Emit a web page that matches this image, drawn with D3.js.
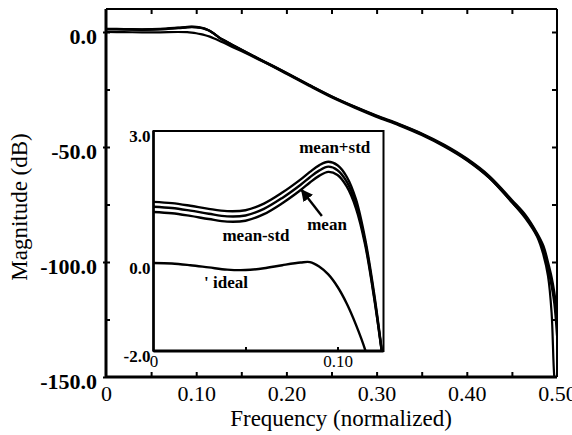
<!DOCTYPE html>
<html>
<head>
<meta charset="utf-8">
<script src="https://cdn.jsdelivr.net/npm/d3@7"></script>
<style>
  html, body { margin: 0; padding: 0; background: #fff; }
  svg { display: block; }
  text { font-family: "Liberation Serif", "DejaVu Serif", serif; fill: #000; }
</style>
</head>
<body>
<svg id="chart" width="572" height="435"></svg>
<script>
// ---------------- DATA ----------------
// Main plot: full band, normalized frequency 0..0.5, magnitude in dB
const mainFreq = [0, 0.02, 0.04, 0.06, 0.08, 0.09, 0.095, 0.10, 0.105, 0.11, 0.115, 0.12, 0.125, 0.13, 0.14, 0.15,
                  0.175, 0.2, 0.225, 0.25, 0.275, 0.3, 0.325, 0.35, 0.375, 0.4, 0.425, 0.45, 0.465, 0.478, 0.485,
                  0.49, 0.494, 0.497, 0.5];
const mainIdeal = [0, -0.05, -0.15, -0.12, 0.01, -0.08, -0.26, -0.54, -0.92, -1.4, -2.0, -2.8, -3.7, -4.6, -6.5, -8.3,
                   -13.1, -18.2, -23.4, -28.4, -32.8, -36.9, -40.6, -44.8, -49.8, -55.8, -63.5, -74, -81, -89, -97,
                   -106, -122, -150, -160];
const mainMeanPlusStd = [1.39, 1.30, 1.18, 1.35, 1.90, 2.22, 2.30, 2.22, 1.96, 1.45, 0.55, -0.72, -2.2, -3.4, -5.5, -7.6,
                   -12.7, -17.7, -22.9, -27.9, -32.3, -36.3, -40.0, -44.1, -49.0, -55.0, -62.6, -73, -79.5, -87.5, -93,
                   -100, -106.5, -113, -122];
const mainMean = [1.28, 1.19, 1.06, 1.23, 1.78, 2.10, 2.19, 2.11, 1.85, 1.35, 0.48, -0.78, -2.3, -3.5, -5.6, -7.7,
                   -12.8, -17.8, -23, -28, -32.4, -36.5, -40.2, -44.3, -49.3, -55.3, -63, -73.5, -80, -88, -94,
                   -101.5, -108.5, -115.5, -126];
const mainMeanMinusStd = [1.16, 1.07, 0.94, 1.11, 1.66, 1.98, 2.07, 2.00, 1.74, 1.25, 0.42, -0.82, -2.35, -3.6, -5.7, -7.8,
                   -12.9, -17.9, -23.1, -28.1, -32.5, -36.6, -40.3, -44.5, -49.5, -55.6, -63.4, -74, -80.5, -88.5, -95,
                   -103, -110.5, -118, -132];

// Inset: passband detail, frequency 0..0.125, magnitude in dB
const insetFreq = [0, 0.01, 0.02, 0.03, 0.04, 0.05, 0.06, 0.07, 0.08, 0.085, 0.09, 0.095, 0.10, 0.105, 0.11, 0.115, 0.12, 0.125];
const insetIdeal = [0, -0.01, -0.05, -0.10, -0.15, -0.16, -0.12, -0.05, 0.01, 0.02, -0.08, -0.26, -0.54, -0.92, -1.40, -1.97, -2.8, -3.7];
const insetMeanPlusStd = [1.39, 1.36, 1.30, 1.23, 1.18, 1.20, 1.35, 1.60, 1.90, 2.07, 2.22, 2.30, 2.22, 1.96, 1.45, 0.55, -0.72, -2.3];
const insetMean = [1.28, 1.25, 1.19, 1.12, 1.06, 1.08, 1.23, 1.48, 1.78, 1.95, 2.10, 2.19, 2.11, 1.85, 1.35, 0.48, -0.78, -2.3];
const insetMeanMinusStd = [1.16, 1.13, 1.07, 1.00, 0.94, 0.96, 1.11, 1.36, 1.66, 1.83, 1.98, 2.07, 2.00, 1.74, 1.25, 0.42, -0.82, -2.3];

// Tick values / labels
const mainXTicks = [0, 0.1, 0.2, 0.3, 0.4, 0.5];
const mainXTickLabels = ["0", "0.10", "0.20", "0.30", "0.40", "0.50"];
const mainXMinorTicks = [0.05, 0.1, 0.15, 0.2, 0.25, 0.3, 0.35, 0.4, 0.45];
const mainYTicks = [0, -50, -100, -150];
const mainYTickLabels = ["0.0", "-50.0", "-100.0", "-150.0"];
const mainYMinorTicks = [0, -25, -50, -75, -100, -125];
const insetXTicks = [0, 0.1];
const insetXTickLabels = ["0", "0.10"];
const insetXMinorTicks = [0.05, 0.1];
const insetYTicks = [3, 0, -2];
const insetYTickLabels = ["3.0", "0.0", "-2.0"];

const xLabel = "Frequency (normalized)";
const yLabel = "Magnitude (dB)";

// ---------------- DRAWING ----------------
const svg = d3.select("#chart");

const x = d3.scaleLinear().domain([0, 0.5]).range([106, 557]);
const y = d3.scaleLinear().domain([-150, 10]).range([377, 9]);

const xi = d3.scaleLinear().domain([0, 0.125]).range([153.5, 383.5]);
const yi = d3.scaleLinear().domain([-2, 3]).range([351, 131]);

// clip paths
const defs = svg.append("defs");
defs.append("clipPath").attr("id", "mainClip").append("rect")
  .attr("x", x(0)).attr("y", y(10)).attr("width", x(0.5) - x(0)).attr("height", y(-150) - y(10));
defs.append("clipPath").attr("id", "insetClip").append("rect")
  .attr("x", xi(0)).attr("y", yi(3)).attr("width", xi(0.125) - xi(0)).attr("height", yi(-2) - yi(3));
defs.append("marker").attr("id", "arrowHead")
  .attr("viewBox", "0 0 10 10").attr("refX", 9).attr("refY", 5)
  .attr("markerWidth", 5).attr("markerHeight", 5).attr("orient", "auto")
  .append("path").attr("d", "M0,0 L10,5 L0,10 z").attr("fill", "#000");

const smooth = d3.curveCatmullRom.alpha(0.5);

// main curves
const mainLine = vals => d3.line()
  .x((d, i) => x(mainFreq[i]))
  .y(d => y(d))
  .curve(smooth)(vals);

const mainG = svg.append("g").attr("clip-path", "url(#mainClip)");
[mainIdeal, mainMeanMinusStd, mainMean, mainMeanPlusStd].forEach(s => {
  mainG.append("path").attr("d", mainLine(s))
    .attr("fill", "none").attr("stroke", "#000").attr("stroke-width", 2.2);
});

// main frame (top / right)
svg.append("line").attr("x1", x(0)).attr("x2", x(0.5)).attr("y1", y(10)).attr("y2", y(10))
  .attr("stroke", "#000").attr("stroke-width", 2);
svg.append("line").attr("x1", x(0.5)).attr("x2", x(0.5)).attr("y1", y(10)).attr("y2", y(-150))
  .attr("stroke", "#000").attr("stroke-width", 2);

// minor / inward ticks on all sides
svg.append("g").attr("transform", `translate(0,${y(-150)})`)
  .call(d3.axisBottom(x).tickValues(mainXMinorTicks).tickSize(-5).tickFormat(""))
  .call(g => g.select(".domain").remove())
  .selectAll("line").attr("stroke-width", 2);
svg.append("g").attr("transform", `translate(0,${y(10)})`)
  .call(d3.axisTop(x).tickValues(mainXMinorTicks).tickSize(-5).tickFormat(""))
  .call(g => g.select(".domain").remove())
  .selectAll("line").attr("stroke-width", 2);
svg.append("g").attr("transform", `translate(${x(0.5)},0)`)
  .call(d3.axisRight(y).tickValues(mainYMinorTicks).tickSize(-5).tickFormat(""))
  .call(g => g.select(".domain").remove())
  .selectAll("line").attr("stroke-width", 2);
svg.append("g").attr("transform", `translate(${x(0)},0)`)
  .call(d3.axisLeft(y).tickValues(mainYMinorTicks).tickSize(-4).tickFormat(""))
  .call(g => g.select(".domain").remove())
  .selectAll("line").attr("stroke-width", 2);

// main x axis
const xAxisG = svg.append("g").attr("transform", `translate(0,${y(-150)})`)
  .call(d3.axisBottom(x).tickValues(mainXTicks).tickSize(0).tickPadding(8)
    .tickFormat((d, i) => mainXTickLabels[i]));
xAxisG.select(".domain").attr("stroke-width", 3).attr("d", `M${x(0)},0H${x(0.5)}`);
xAxisG.selectAll("text").attr("font-size", 22).attr("font-family", "Liberation Serif");

// main y axis
const yAxisG = svg.append("g").attr("transform", `translate(${x(0)},0)`)
  .call(d3.axisLeft(y).tickValues(mainYTicks).tickSize(3).tickPadding(6)
    .tickFormat((d, i) => mainYTickLabels[i]));
yAxisG.select(".domain").attr("stroke-width", 3).attr("d", `M0,${y(10)}V${y(-150)}`);
yAxisG.selectAll("line").attr("stroke-width", 2);
yAxisG.selectAll("text").attr("font-size", 22).attr("font-weight", "bold")
  .attr("font-family", "Liberation Serif").attr("dy", "0.5em");

// axis labels
svg.append("text").attr("x", 341).attr("y", 426).attr("text-anchor", "middle")
  .attr("font-size", 23).text(xLabel);
svg.append("text").attr("transform", `translate(27,${207}) rotate(-90)`)
  .attr("text-anchor", "middle").attr("font-size", 23).text(yLabel);

// ---------------- INSET ----------------
svg.append("rect").attr("x", xi(0)).attr("y", yi(3))
  .attr("width", xi(0.125) - xi(0)).attr("height", yi(-2) - yi(3))
  .attr("fill", "#fff").attr("stroke", "#000").attr("stroke-width", 2);

const insetLine = vals => d3.line()
  .x((d, i) => xi(insetFreq[i]))
  .y(d => yi(d))
  .curve(smooth)(vals);

const insetG = svg.append("g").attr("clip-path", "url(#insetClip)");
[insetIdeal, insetMeanMinusStd, insetMean, insetMeanPlusStd].forEach(s => {
  insetG.append("path").attr("d", insetLine(s))
    .attr("fill", "none").attr("stroke", "#000").attr("stroke-width", 2.4);
});

// inset axes
const ixG = svg.append("g").attr("transform", `translate(0,${yi(-2)})`)
  .call(d3.axisBottom(xi).tickValues(insetXTicks).tickSize(0).tickPadding(4)
    .tickFormat((d, i) => insetXTickLabels[i]));
ixG.select(".domain").attr("stroke-width", 3).attr("d", `M${xi(0)},0H${xi(0.125)}`);
ixG.selectAll("text").attr("font-size", 17).attr("font-family", "Liberation Serif");
svg.append("g").attr("transform", `translate(0,${yi(-2)})`)
  .call(d3.axisBottom(xi).tickValues(insetXMinorTicks).tickSize(-4).tickFormat(""))
  .call(g => g.select(".domain").remove())
  .selectAll("line").attr("stroke-width", 2);

const iyG = svg.append("g").attr("transform", `translate(${xi(0)},0)`)
  .call(d3.axisLeft(yi).tickValues(insetYTicks).tickSize(0).tickPadding(3)
    .tickFormat((d, i) => insetYTickLabels[i]));
iyG.select(".domain").attr("stroke-width", 2.5).attr("d", `M0,${yi(3)}V${yi(-2)}`);
iyG.selectAll("text").attr("font-size", 17).attr("font-weight", "bold")
  .attr("font-family", "Liberation Serif").attr("dy", "0.6em");

// annotations (positioned in inset data coordinates)
svg.append("text").attr("x", xi(0.0985)).attr("y", yi(2.5)).attr("text-anchor", "middle")
  .attr("font-size", 17).attr("font-weight", "bold").text("mean+std");
svg.append("text").attr("x", xi(0.0943)).attr("y", yi(0.75)).attr("text-anchor", "middle")
  .attr("font-size", 17).attr("font-weight", "bold").text("mean");
svg.append("text").attr("x", xi(0.0557)).attr("y", yi(0.49)).attr("text-anchor", "middle")
  .attr("font-size", 17).attr("font-weight", "bold").text("mean-std");
svg.append("text").attr("x", xi(0.0275)).attr("y", yi(-0.57))
  .attr("font-size", 17).attr("font-weight", "bold").text("' ideal");
svg.append("line")
  .attr("x1", xi(0.0915)).attr("y1", yi(1.07))
  .attr("x2", xi(0.0805)).attr("y2", yi(1.66))
  .attr("stroke", "#000").attr("stroke-width", 2.4)
  .attr("marker-end", "url(#arrowHead)");
</script>
</body>
</html>
